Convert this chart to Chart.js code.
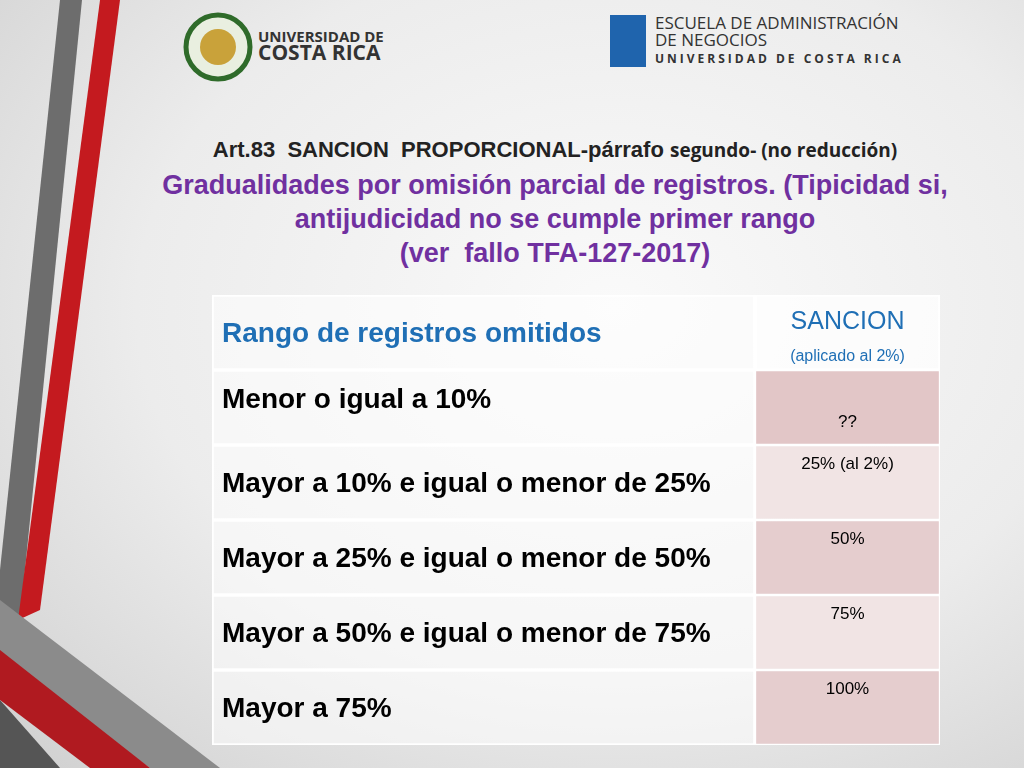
<!DOCTYPE html>
<html><head><meta charset="utf-8">
<script src="https://cdn.jsdelivr.net/npm/chart.js@4"></script>
<style>
body{margin:0;width:1024px;height:768px;overflow:hidden;font-family:"Liberation Sans",Arial,sans-serif;
 background:radial-gradient(ellipse at 60% 40%,#fafafa 0%,#ececec 55%,#cfcfcf 100%);position:relative}
#deco{position:absolute;left:0;top:0}
.t{position:absolute;left:80px;width:950px;text-align:center;font-weight:bold;white-space:nowrap}
#wrap{position:absolute;left:212px;top:295px;width:728px;height:450px}
.logo{position:absolute;font-family:"Open Sans",sans-serif;color:#333}
</style></head><body>
<svg id="deco" width="1024" height="768">
 <polygon points="60,0 82,0 20,620 0,640 0,570" fill="#6d6d6d"/>
 <polygon points="100,0 120,0 40,610 18,620" fill="#c41a1f"/>
 <polygon points="0,600 0,660 150,768 220,768" fill="#8b8b8b"/>
 <polygon points="0,650 0,700 90,768 150,768" fill="#b01a20"/>
 <polygon points="0,700 0,768 60,768" fill="#555"/>
 <circle cx="218" cy="47" r="32" fill="#e9efe0" stroke="#2f6b2a" stroke-width="5"/>
 <circle cx="218" cy="47" r="18" fill="#c9a23a"/>
 <rect x="610" y="15" width="36" height="52" fill="#1f64ad"/>
</svg>
<div class="logo" style="left:258px;top:28px;font-size:15px;font-weight:bold;line-height:16px">UNIVERSIDAD DE<br><span style="font-size:21px">COSTA RICA</span></div>
<div class="logo" style="left:655px;top:14px;font-size:17px;line-height:17px">ESCUELA DE ADMINISTRACIÓN<br>DE NEGOCIOS<br><span style="font-size:12px;letter-spacing:3px;font-weight:bold">UNIVERSIDAD DE COSTA RICA</span></div>
<div class="t" style="top:137px;font-size:22px;color:#222">Art.83&nbsp; SANCION&nbsp; PROPORCIONAL-párrafo <span style="font-family:'Open Sans',sans-serif;font-size:19px">segundo- (no reducción)</span></div>
<div class="t" style="top:168px;font-size:27px;color:#7030a0;line-height:34px">Gradualidades por omisión parcial de registros. (Tipicidad si,<br>antijudicidad no se cumple primer rango<br>(ver&nbsp; fallo TFA-127-2017)</div>
<div id="wrap"><canvas id="tabla"></canvas></div>
<script>
const rangos = ["Rango de registros omitidos", "Menor o igual a 10%", "Mayor a 10% e igual o menor de 25%",
  "Mayor a 25% e igual o menor de 50%", "Mayor a 50% e igual o menor de 75%", "Mayor a 75%"];
const sanciones = ["SANCION", "??", "25% (al 2%)", "50%", "75%", "100%"];
const colRango = rangos.map(() => 543);
const colSancion = sanciones.map(() => 185);

const textoCeldas = {
  id: "textoCeldas",
  afterDatasetsDraw(chart) {
    const ctx = chart.ctx;
    const m0 = chart.getDatasetMeta(0), m1 = chart.getDatasetMeta(1);
    ctx.save();
    rangos.forEach((r, i) => {
      const a = m0.data[i], b = m1.data[i];
      const h = a.height, top = a.y - h / 2;
      ctx.textBaseline = "middle";
      ctx.textAlign = "left";
      ctx.fillStyle = i === 0 ? "#1f6fb5" : "#000";
      ctx.font = "bold 28px 'Liberation Sans', Arial";
      ctx.fillText(r, a.base + 10, i === 1 ? top + 30 : a.y + 2);
      const cx = (b.base + b.x) / 2;
      ctx.textAlign = "center";
      if (i === 0) {
        ctx.fillStyle = "#1f6fb5";
        ctx.font = "25px 'Liberation Sans', Arial";
        ctx.fillText(sanciones[i], cx, top + 27);
        ctx.font = "16px 'Liberation Sans', Arial";
        ctx.fillText("(aplicado al 2%)", cx, top + 62);
      } else {
        ctx.fillStyle = "#000";
        ctx.font = "17px 'Liberation Sans', Arial";
        ctx.fillText(sanciones[i], cx, i === 1 ? top + 52 : top + 19);
      }
    });
    ctx.restore();
  }
};

new Chart("tabla", {
  type: "bar",
  data: {
    labels: rangos,
    datasets: [{
      data: colRango,
      backgroundColor: "rgba(255,255,255,0.55)",
      borderColor: "#fff", borderWidth: 1.5, borderSkipped: false
    }, {
      data: colSancion,
      backgroundColor: ["rgba(255,255,255,0.75)", "#e2c6c7", "#f1e4e4", "#e5cdce", "#f1e4e4", "#e5cdce"],
      borderColor: "#fff", borderWidth: 1.5, borderSkipped: false
    }]
  },
  options: {
    indexAxis: "y",
    responsive: true, maintainAspectRatio: false, animation: false,
    layout: { padding: 0 },
    datasets: { bar: { barPercentage: 1, categoryPercentage: 1 } },
    plugins: { legend: { display: false }, tooltip: { enabled: false } },
    scales: {
      x: { stacked: true, min: 0, max: 728, display: false },
      y: { stacked: true, display: false }
    }
  },
  plugins: [textoCeldas]
});
</script>
</body></html>
